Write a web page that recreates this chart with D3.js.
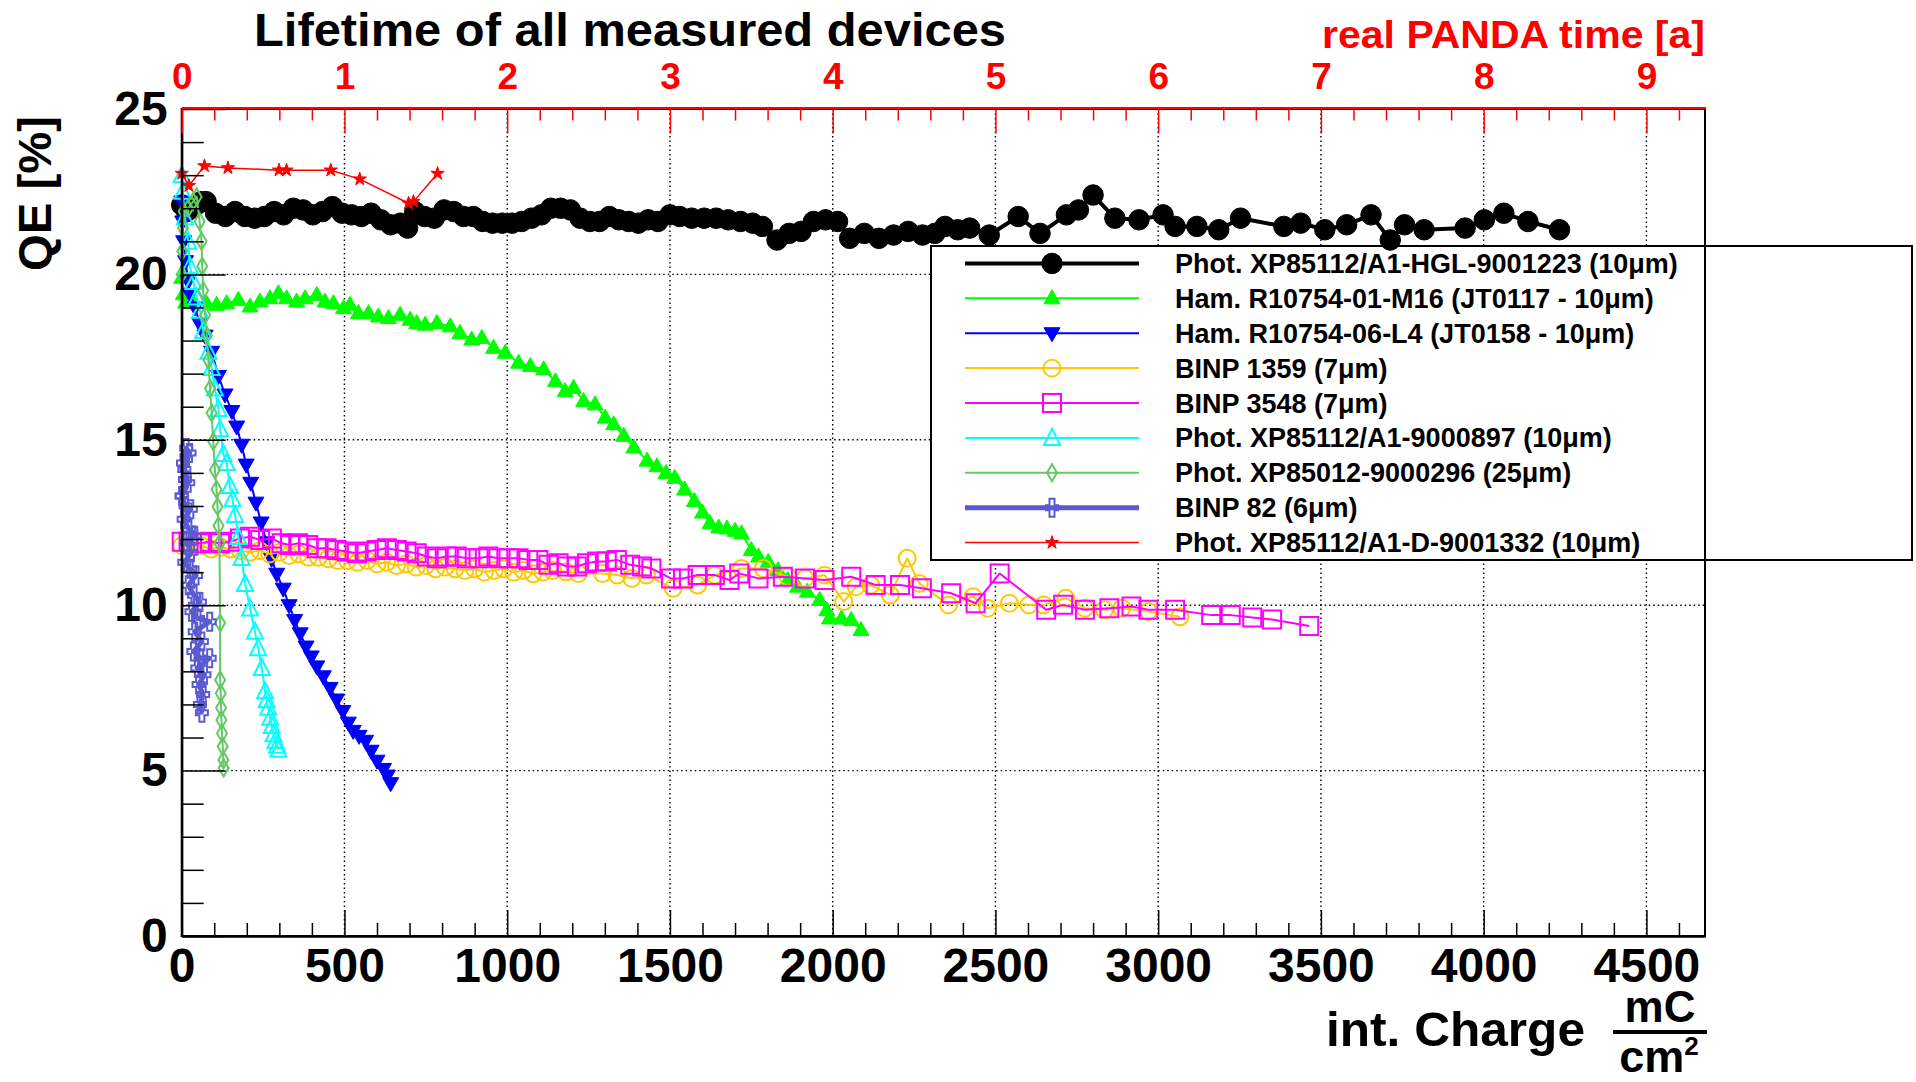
<!DOCTYPE html>
<html>
<head>
<meta charset="utf-8">
<script src="https://cdn.jsdelivr.net/npm/d3@7"></script>
<style>
  html, body { margin: 0; padding: 0; background: #fff; }
  svg { display: block; font-family: "Liberation Sans", Arial, Helvetica, sans-serif; font-weight: bold; }
</style>
</head>
<body>
<svg id="chart" width="1916" height="1082"></svg>
<script>
// ---- Tick values -------------------------------------------------------
const chargeTicks = [0, 500, 1000, 1500, 2000, 2500, 3000, 3500, 4000, 4500];
const qeTicks = [0, 5, 10, 15, 20, 25];
const yearTicks = [0, 1, 2, 3, 4, 5, 6, 7, 8, 9];

// ---- Series: [integrated charge mC/cm^2, QE %] --------------------------
const hgl9001223 = [[0,22.1],[15,21.9],[30,22.0],[45,22.1],[60,22.2],[75,22.2],[104,21.85],[134,21.75],[164,21.9],[194,21.75],[224,21.7],[254,21.75],[284,21.9],[313,21.8],[343,22.0],[373,21.95],[403,21.8],[433,21.9],[463,22.05],[493,21.85],[522,21.8],[552,21.75],[582,21.85],[612,21.65],[642,21.5],[672,21.55],[694,21.4],[716,21.9],[746,21.75],[776,21.7],[806,21.95],[836,21.9],[866,21.75],[896,21.75],[925,21.6],[955,21.55],[985,21.55],[1015,21.55],[1045,21.6],[1075,21.7],[1105,21.8],[1134,22.0],[1164,22.0],[1194,21.95],[1224,21.7],[1254,21.6],[1284,21.6],[1314,21.75],[1343,21.65],[1373,21.6],[1403,21.55],[1433,21.65],[1463,21.6],[1500,21.8],[1530,21.75],[1567,21.7],[1605,21.7],[1642,21.7],[1679,21.65],[1717,21.6],[1754,21.55],[1784,21.45],[1829,21.04],[1866,21.24],[1903,21.3],[1941,21.6],[1978,21.65],[2015,21.6],[2052,21.09],[2097,21.24],[2142,21.09],[2187,21.19],[2232,21.3],[2276,21.19],[2314,21.24],[2345,21.45],[2384,21.35],[2421,21.4],[2481,21.19],[2570,21.75],[2637,21.24],[2718,21.8],[2755,21.95],[2800,22.4],[2867,21.7],[2941,21.65],[3015,21.8],[3052,21.45],[3119,21.45],[3186,21.35],[3253,21.7],[3386,21.45],[3438,21.55],[3512,21.35],[3579,21.5],[3654,21.8],[3713,21.04],[3757,21.5],[3817,21.35],[3943,21.4],[4002,21.65],[4062,21.85],[4136,21.6],[4233,21.35]];

const hamM16 = [[0,19.9],[5,19.4],[12,19.15],[35,19.13],[76,19.13],[107,19.08],[138,19.13],[174,19.23],[210,19.03],[240,19.18],[271,19.28],[297,19.43],[322,19.28],[353,19.18],[379,19.28],[415,19.38],[440,19.18],[466,19.13],[497,18.98],[517,19.08],[543,18.83],[574,18.83],[604,18.73],[635,18.68],[671,18.78],[702,18.63],[722,18.53],[748,18.48],[784,18.53],[825,18.43],[855,18.23],[891,18.03],[922,18.08],[958,17.78],[994,17.63],[1035,17.33],[1071,17.23],[1112,17.13],[1148,16.77],[1178,16.47],[1204,16.57],[1235,16.17],[1270,16.07],[1301,15.67],[1327,15.47],[1358,15.12],[1389,14.77],[1430,14.37],[1460,14.2],[1488,14.0],[1515,13.85],[1545,13.5],[1575,13.15],[1600,12.8],[1623,12.48],[1650,12.35],[1675,12.32],[1700,12.25],[1720,12.17],[1750,11.67],[1772,11.47],[1802,11.31],[1832,11.06],[1862,10.76],[1892,10.56],[1922,10.41],[1960,10.16],[1982,9.85],[1990,9.6],[2027,9.6],[2057,9.55],[2087,9.25]];

const hamL4 = [[0,22.2],[3,21.6],[6,21.0],[12,20.4],[20,19.8],[26,19.4],[41,19.0],[56,18.5],[72,18.15],[92,17.66],[113,16.93],[133,16.37],[154,15.87],[169,15.4],[184,14.85],[198,14.25],[212,13.7],[228,13.1],[244,12.5],[261,11.9],[276,11.4],[292,10.95],[312,10.5],[330,10.0],[347,9.55],[364,9.15],[382,8.75],[398,8.45],[415,8.15],[435,7.85],[456,7.5],[476,7.15],[495,6.8],[512,6.45],[527,6.2],[545,6.05],[565,5.9],[582,5.6],[600,5.3],[620,5.05],[632,4.85],[642,4.62]];

const binp1359 = [[0,11.8],[30,11.75],[60,11.8],[90,11.7],[120,11.75],[150,11.7],[180,11.65],[210,11.6],[240,11.65],[270,11.55],[300,11.6],[330,11.5],[360,11.55],[390,11.45],[420,11.45],[450,11.4],[480,11.35],[510,11.35],[540,11.3],[570,11.35],[600,11.25],[630,11.3],[660,11.2],[690,11.25],[720,11.15],[750,11.2],[780,11.1],[810,11.15],[840,11.1],[870,11.05],[900,11.1],[930,11.0],[960,11.05],[990,11.1],[1020,11.0],[1050,11.05],[1080,10.95],[1110,11.0],[1140,11.05],[1181,11.01],[1219,10.96],[1293,10.96],[1338,10.91],[1383,10.81],[1428,10.91],[1510,10.51],[1585,10.61],[1638,10.91],[1720,11.11],[1787,11.11],[1862,10.86],[1915,10.81],[1975,10.91],[2034,10.11],[2072,10.56],[2117,10.61],[2177,10.31],[2229,11.42],[2266,10.66],[2356,10.01],[2431,10.26],[2476,9.91],[2543,10.06],[2603,10.01],[2648,10.01],[2716,10.21],[2775,9.91],[2835,9.86],[2888,9.91],[2970,9.81],[3067,9.65]];

const binp3548 = [[0,11.92],[21,11.92],[56,11.87],[87,11.92],[118,11.87],[149,11.92],[179,12.02],[210,12.07],[241,11.97],[277,12.02],[307,11.87],[333,11.82],[358,11.87],[389,11.82],[415,11.72],[445,11.72],[476,11.67],[507,11.62],[538,11.57],[568,11.62],[599,11.67],[630,11.72],[661,11.67],[691,11.62],[722,11.57],[753,11.47],[784,11.42],[814,11.47],[845,11.47],[876,11.42],[912,11.42],[942,11.47],[973,11.42],[1004,11.42],[1035,11.42],[1065,11.37],[1096,11.37],[1127,11.22],[1158,11.27],[1183,11.17],[1214,11.17],[1245,11.27],[1276,11.32],[1306,11.32],[1337,11.37],[1378,11.22],[1414,11.17],[1443,11.11],[1503,10.81],[1540,10.81],[1585,10.91],[1638,10.91],[1683,10.76],[1713,10.96],[1772,10.81],[1847,10.86],[1915,10.81],[1975,10.76],[2057,10.86],[2132,10.61],[2207,10.61],[2274,10.51],[2364,10.36],[2439,10.06],[2513,10.96],[2656,9.86],[2708,10.01],[2775,9.86],[2850,9.91],[2918,9.96],[2970,9.86],[3052,9.86],[3163,9.70],[3223,9.70],[3289,9.63],[3350,9.57],[3464,9.37]];

const xp9000897 = [[0,23.0],[3,22.5],[10,21.73],[20,20.99],[25,20.25],[36,19.77],[46,19.3],[56,18.9],[66,18.29],[82,17.66],[92,17.17],[102,16.55],[113,15.93],[118,15.32],[128,14.57],[138,14.3],[148,13.6],[156,13.2],[164,12.73],[174,12.06],[184,11.43],[195,10.64],[210,9.9],[225,9.2],[235,8.7],[246,8.1],[256,7.4],[261,7.13],[266,6.9],[272,6.6],[277,6.35],[282,6.1],[288,5.9],[293,5.75],[297,5.63]];

const xp9000296 = [[0,20.0],[2,20.7],[4,21.4],[6,21.9],[20,22.0],[35,22.2],[46,22.35],[55,21.6],[61,21.0],[63,20.25],[66,19.51],[72,18.77],[77,18.16],[82,17.41],[87,16.55],[92,15.81],[97,14.95],[102,14.09],[107,13.5],[110,12.98],[113,12.4],[116,11.87],[118,9.46],[118,7.74],[120,7.34],[121,6.9],[122,6.53],[124,6.13],[126,5.73],[128,5.32],[129,5.08]];

const binp82 = [[0,13.3],[10,13.8],[4,14.3],[14,14.75],[24,14.6],[8,14.1],[20,13.7],[0,13.3],[12,13.0],[28,12.9],[6,12.6],[22,12.3],[40,12.1],[14,11.9],[30,11.6],[8,11.3],[26,11.1],[44,10.9],[20,10.6],[38,10.3],[56,10.1],[30,9.8],[50,9.6],[86,9.5],[40,9.2],[62,8.9],[36,8.6],[58,8.4],[86,8.4],[48,8.1],[70,7.9],[52,7.6],[66,7.3],[56,7.0],[62,6.75]];

const xpD9001332 = [[0,23.05],[22,22.68],[70,23.28],[142,23.22],[299,23.15],[322,23.15],[458,23.15],[547,22.88],[697,22.15],[712,22.2],[786,23.05]];

// ---- Legend labels (drawing order) ---------------------------------------
const seriesLabels = [
  "Phot. XP85112/A1-HGL-9001223 (10\u03bcm)",
  "Ham. R10754-01-M16 (JT0117 - 10\u03bcm)",
  "Ham. R10754-06-L4 (JT0158 - 10\u03bcm)",
  "BINP 1359 (7\u03bcm)",
  "BINP 3548 (7\u03bcm)",
  "Phot. XP85112/A1-9000897 (10\u03bcm)",
  "Phot. XP85012-9000296 (25\u03bcm)",
  "BINP 82 (6\u03bcm)",
  "Phot. XP85112/A1-D-9001332 (10\u03bcm)"
];

// style table built from the arrays above
const series = [
  { data: hgl9001223, color: "#000000", width: 4,   marker: "circle",  filled: true },
  { data: hamM16,     color: "#00ff00", width: 2,   marker: "triUp",   filled: true },
  { data: hamL4,      color: "#0000ff", width: 2,   marker: "triDown", filled: true },
  { data: binp1359,   color: "#ffc800", width: 2,   marker: "ocircle", filled: false },
  { data: binp3548,   color: "#ff00ff", width: 2,   marker: "square",  filled: false },
  { data: xp9000897,  color: "#00ffff", width: 2,   marker: "otri",    filled: false },
  { data: xp9000296,  color: "#64c864", width: 2,   marker: "diamond", filled: false },
  { data: binp82,     color: "#5a5ad2", width: 5,   marker: "cross",   filled: false },
  { data: xpD9001332, color: "#ff0000", width: 1.5, marker: "star",    filled: true }
].map((s, i) => ({ ...s, label: seriesLabels[i] }));

// ---- Layout ---------------------------------------------------------------
const plot = { left: 181.7, right: 1705, top: 109, bottom: 936 };
const chargeMax = 4680;

const x = d3.scaleLinear().domain([0, chargeMax]).range([plot.left, plot.right]);
const y = d3.scaleLinear().domain([0, 25]).range([plot.bottom, plot.top]);
const xYears = d3.scaleLinear().domain([0, chargeMax / 500]).range([plot.left, plot.right]);

const svg = d3.select("#chart");
svg.append("rect").attr("width", 1916).attr("height", 1082).attr("fill", "#fff");

// ---- Grid -------------------------------------------------------------------
const grid = svg.append("g").attr("stroke", "#000").attr("stroke-width", 1.4)
  .attr("stroke-dasharray", "1.5,3");
grid.selectAll("line.v").data(chargeTicks.filter(d => d > 0)).join("line")
  .attr("x1", d => x(d)).attr("x2", d => x(d))
  .attr("y1", plot.top).attr("y2", plot.bottom);
grid.selectAll("line.h").data(qeTicks.filter(d => d > 0 && d < 25)).join("line")
  .attr("class", "h")
  .attr("x1", plot.left).attr("x2", plot.right)
  .attr("y1", d => y(d)).attr("y2", d => y(d));

// ---- Legend frame (content drawn later) --------------------------------
const legend = { left: 931, right: 1912, top: 246, bottom: 560 };
svg.append("rect")
  .attr("x", legend.left).attr("y", legend.top)
  .attr("width", legend.right - legend.left).attr("height", legend.bottom - legend.top)
  .attr("fill", "#fff").attr("stroke", "#000").attr("stroke-width", 2);

// ---- Marker shapes ----------------------------------------------------------
function markerPath(type) {
  switch (type) {
    case "circle":  return d3.symbol(d3.symbolCircle, 330)();
    case "ocircle": return d3.symbol(d3.symbolCircle, 225)();
    case "triUp":   return "M0,-8.5L8,5.5L-8,5.5Z";
    case "triDown": return "M0,8.5L8,-5.5L-8,-5.5Z";
    case "otri":    return "M0,-9L8,7L-8,7Z";
    case "square":  return "M-9,-9H9V9H-9Z";
    case "diamond": return "M0,-8.5L5,0L0,8.5L-5,0Z";
    case "cross":   return "M-2.5,-9H2.5V-2.5H6V2.5H2.5V9H-2.5V2.5H-6V-2.5H-2.5Z";
    case "star":    return d3.symbol(d3.symbolStar, 55)();
  }
}

// ---- Series -------------------------------------------------------------------
const line = d3.line().x(d => x(d[0])).y(d => y(d[1]));
const plotArea = svg.append("g");
series.forEach(s => {
  const g = plotArea.append("g");
  g.append("path").datum(s.data).attr("d", line)
    .attr("fill", "none").attr("stroke", s.color).attr("stroke-width", s.width)
    .attr("stroke-linejoin", "round");
  const mp = markerPath(s.marker);
  g.selectAll("path.m").data(s.data).join("path")
    .attr("class", "m")
    .attr("transform", d => `translate(${x(d[0])},${y(d[1])})`)
    .attr("d", mp)
    .attr("fill", s.filled ? s.color : "none")
    .attr("stroke", s.color)
    .attr("stroke-width", s.filled ? 1 : 2);
});

// ---- Frame & axes -------------------------------------------------------------
svg.append("rect")
  .attr("x", plot.left).attr("y", plot.top)
  .attr("width", plot.right - plot.left).attr("height", plot.bottom - plot.top)
  .attr("fill", "none").attr("stroke", "#000").attr("stroke-width", 2);

function styleAxis(g, color, fontSize) {
  g.attr("font-family", null).attr("font-size", null);
  g.selectAll("path.domain").attr("stroke", color).attr("stroke-width", 2);
  g.selectAll(".tick line").attr("stroke", color).attr("stroke-width", 1.5);
  g.selectAll(".tick text").attr("fill", color).style("font-size", fontSize + "px");
}

const chargeMinor = d3.range(100, 4700, 100).filter(v => v % 500 !== 0);
const qeMinor = d3.range(1, 25, 1).filter(v => v % 5 !== 0);
const yearMinor = d3.range(0.2, 9.3, 0.2).filter(v => Math.abs(v - Math.round(v)) > 0.01);

// bottom: integrated charge
const gx = svg.append("g").attr("transform", `translate(0,${plot.bottom})`)
  .call(d3.axisBottom(x).tickValues(chargeTicks).tickSize(-26).tickSizeOuter(0).tickPadding(12).tickFormat(d3.format("d")));
styleAxis(gx, "#000", 48);
const gxm = svg.append("g").attr("transform", `translate(0,${plot.bottom})`)
  .call(d3.axisBottom(x).tickValues(chargeMinor).tickSize(-13).tickSizeOuter(0).tickFormat(""));
styleAxis(gxm, "#000", 10);

// left: QE
const gy = svg.append("g").attr("transform", `translate(${plot.left},0)`)
  .call(d3.axisLeft(y).tickValues(qeTicks).tickSize(-44).tickSizeOuter(0).tickPadding(14));
styleAxis(gy, "#000", 48);
const gym = svg.append("g").attr("transform", `translate(${plot.left},0)`)
  .call(d3.axisLeft(y).tickValues(qeMinor).tickSize(-22).tickSizeOuter(0).tickFormat(""));
styleAxis(gym, "#000", 10);

// top: real PANDA time in years
const gt = svg.append("g").attr("transform", `translate(0,${plot.top - 1.5})`)
  .call(d3.axisTop(xYears).tickValues(yearTicks).tickSize(-26).tickSizeOuter(0).tickPadding(19));
styleAxis(gt, "#ff0000", 37);
const gtm = svg.append("g").attr("transform", `translate(0,${plot.top - 1.5})`)
  .call(d3.axisTop(xYears).tickValues(yearMinor).tickSize(-13).tickSizeOuter(0).tickFormat(""));
styleAxis(gtm, "#ff0000", 10);

// ---- Titles ---------------------------------------------------------------
svg.append("text").attr("x", 254).attr("y", 46)
  .attr("textLength", 752).attr("lengthAdjust", "spacingAndGlyphs")
  .style("font-size", "47px").attr("fill", "#000")
  .text("Lifetime of all measured devices");

svg.append("text").attr("x", 1705).attr("y", 48).attr("text-anchor", "end")
  .attr("textLength", 383).attr("lengthAdjust", "spacingAndGlyphs")
  .style("font-size", "39px").attr("fill", "#ff0000")
  .text("real PANDA time [a]");

svg.append("text").attr("transform", "translate(51,116) rotate(-90)")
  .attr("text-anchor", "end")
  .attr("textLength", 155).attr("lengthAdjust", "spacingAndGlyphs")
  .style("font-size", "47px").attr("fill", "#000")
  .text("QE [%]");

svg.append("text").attr("x", 1326).attr("y", 1046)
  .attr("textLength", 259).attr("lengthAdjust", "spacingAndGlyphs")
  .style("font-size", "49px").attr("fill", "#000")
  .text("int. Charge");

// unit fraction mC / cm^2
svg.append("text").attr("x", 1660).attr("y", 1022).attr("text-anchor", "middle")
  .style("font-size", "44px").attr("fill", "#000").text("mC");
svg.append("line").attr("x1", 1613).attr("x2", 1707).attr("y1", 1032).attr("y2", 1032)
  .attr("stroke", "#000").attr("stroke-width", 4);
const cm = svg.append("text").attr("x", 1659).attr("y", 1071.5).attr("text-anchor", "middle")
  .style("font-size", "45px").attr("fill", "#000");
cm.append("tspan").text("cm");
cm.append("tspan").attr("dy", -17).style("font-size", "26px").text("2");

// ---- Legend entries ---------------------------------------------------------
const rowH = (legend.bottom - legend.top) / series.length;
const lg = svg.append("g");
series.forEach((s, i) => {
  const cy = legend.top + (i + 0.5) * rowH;
  lg.append("line").attr("x1", 965).attr("x2", 1139).attr("y1", cy).attr("y2", cy)
    .attr("stroke", s.color).attr("stroke-width", s.width);
  lg.append("path").attr("transform", `translate(1052,${cy})`).attr("d", markerPath(s.marker))
    .attr("fill", s.filled ? s.color : "none").attr("stroke", s.color)
    .attr("stroke-width", s.filled ? 1 : 2);
  lg.append("text").attr("x", 1175).attr("y", cy + 9.5)
    .style("font-size", "27px").attr("fill", "#000").text(s.label);
});
</script>
</body>
</html>
